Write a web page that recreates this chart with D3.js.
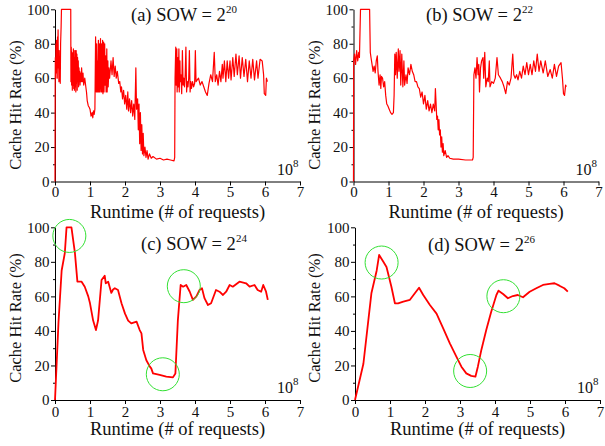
<!DOCTYPE html>
<html><head><meta charset="utf-8">
<script src="https://cdn.jsdelivr.net/npm/d3@7"></script>
<style>
body{margin:0;background:#fff;}
svg{display:block;}
</style></head>
<body><svg id="chart" width="605" height="446"></svg>
<script>
// ---- data ----
const xTicks = [0,1,2,3,4,5,6,7];
const yTicks = [0,20,40,60,80,100];
const yMinorTicks = [10,30,50,70,90];
const panelLabels = ["(a) SOW = 2","(b) SOW = 2","(c) SOW = 2","(d) SOW = 2"];
const panelExponents = ["20","22","24","26"];
const xTitle = "Runtime (# of requests)";
const yTitle = "Cache Hit Rate (%)";
const xScaleBase = "10", xScaleExp = "8";

const seriesA = [[0,0],[0.005,55],[0.01,72],[0.018,60],[0.025,80],[0.032,63],[0.04,82],[0.048,66],[0.056,75],[0.064,60],[0.072,84],[0.08,70],[0.088,88],[0.096,66],[0.104,72],[0.112,58],[0.12,76],[0.13,60],[0.14,62],[0.15,57],[0.16,80],[0.175,90],[0.185,100],[0.45,100],[0.455,58],[0.465,78],[0.475,56],[0.485,75],[0.495,53],[0.505,74],[0.515,56],[0.525,77],[0.535,54],[0.545,72],[0.555,53],[0.565,76],[0.575,55],[0.585,76],[0.595,52],[0.605,76],[0.615,57],[0.625,74],[0.635,53],[0.645,72],[0.655,58],[0.665,70],[0.675,55],[0.685,66],[0.695,60],[0.705,64],[0.715,56],[0.73,63],[0.745,58],[0.76,66],[0.78,58],[0.8,63],[0.82,56],[0.85,60],[0.88,55],[0.9,52],[0.92,47],[0.95,44],[0.98,43],[1.0,42],[1.03,38],[1.06,40],[1.08,37],[1.1,41],[1.12,39],[1.14,42],[1.16,84],[1.17,60],[1.18,52],[1.19,80],[1.2,52],[1.21,70],[1.22,52],[1.24,82],[1.25,52],[1.27,80],[1.28,52],[1.3,83],[1.31,56],[1.32,52],[1.33,80],[1.34,52],[1.36,82],[1.37,51],[1.39,81],[1.4,52],[1.42,80],[1.43,56],[1.45,73],[1.46,52],[1.48,77],[1.49,52],[1.51,70],[1.52,55],[1.54,66],[1.56,60],[1.6,70],[1.63,62],[1.66,72],[1.69,61],[1.72,67],[1.75,60],[1.78,64],[1.82,57],[1.85,58],[1.88,52],[1.9,55],[1.93,48],[1.96,53],[1.99,45],[2.02,50],[2.05,42],[2.08,52],[2.1,41],[2.13,48],[2.16,40],[2.19,47],[2.22,38],[2.25,45],[2.28,36],[2.31,66],[2.33,42],[2.36,48],[2.38,30],[2.4,45],[2.42,22],[2.44,40],[2.46,18],[2.48,33],[2.5,16],[2.52,28],[2.54,15],[2.57,20],[2.6,14],[2.63,18],[2.66,13],[2.7,16],[2.75,13.5],[2.8,14.5],[2.9,13],[3.0,13.5],[3.1,12.5],[3.2,13],[3.3,12.5],[3.4,12],[3.42,14],[3.43,60],[3.45,78],[3.46,56],[3.48,77],[3.49,52],[3.51,72],[3.52,55],[3.54,77],[3.55,52],[3.57,70],[3.58,58],[3.6,62],[3.62,51],[3.64,76],[3.66,56],[3.68,60],[3.7,55],[3.72,62],[3.74,78],[3.76,52],[3.78,58],[3.8,55],[3.82,60],[3.84,76],[3.86,52],[3.88,58],[3.9,54],[3.93,58],[3.96,55],[3.99,57],[4.01,76],[4.03,58],[4.1,60],[4.15,56],[4.2,58],[4.25,55],[4.3,52],[4.35,50],[4.4,57],[4.45,62],[4.5,58],[4.55,75],[4.58,58],[4.62,62],[4.66,56],[4.7,64],[4.74,58],[4.78,68],[4.8,60],[4.84,70],[4.88,58],[4.92,70],[4.96,60],[5.0,70],[5.03,59],[5.08,72],[5.12,61],[5.17,74],[5.21,62],[5.26,73],[5.3,60],[5.35,72],[5.4,61],[5.45,71],[5.5,58],[5.55,70],[5.6,60],[5.65,71],[5.7,59],[5.76,70],[5.8,60],[5.86,71],[5.92,70],[5.96,62],[5.98,51],[6.02,50],[6.04,60],[6.07,58]];

const seriesB = [[0,0],[0.005,70],[0.03,74],[0.06,68],[0.09,76],[0.12,70],[0.15,75],[0.17,72],[0.2,100],[0.46,100],[0.48,75],[0.5,72],[0.53,68],[0.56,64],[0.59,67],[0.62,63],[0.65,70],[0.68,73],[0.7,64],[0.73,56],[0.76,62],[0.78,54],[0.8,61],[0.83,60],[0.86,55],[0.89,58],[0.92,50],[0.95,45],[0.98,44],[1.02,42],[1.06,40],[1.1,39],[1.14,40],[1.16,50],[1.18,74],[1.2,62],[1.22,75],[1.25,60],[1.28,77],[1.3,64],[1.33,76],[1.35,56],[1.38,74],[1.41,55],[1.44,70],[1.46,56],[1.5,62],[1.53,57],[1.56,66],[1.6,62],[1.64,68],[1.68,64],[1.72,62],[1.76,58],[1.8,58],[1.84,55],[1.88,54],[1.92,49],[1.96,52],[2.0,45],[2.04,50],[2.08,42],[2.12,47],[2.16,41],[2.2,45],[2.24,40],[2.28,45],[2.32,41],[2.34,54],[2.36,45],[2.38,36],[2.4,38],[2.42,30],[2.44,36],[2.46,27],[2.48,30],[2.5,20],[2.52,26],[2.54,17],[2.56,22],[2.58,15],[2.62,18],[2.66,14],[2.7,15],[2.75,13.5],[2.85,13],[3.0,13],[3.2,12.5],[3.4,12.5],[3.42,14],[3.44,62],[3.47,66],[3.5,60],[3.53,72],[3.56,62],[3.58,68],[3.6,52],[3.63,66],[3.66,70],[3.7,72],[3.72,60],[3.75,75],[3.78,55],[3.82,60],[3.85,58],[3.88,70],[3.9,55],[3.95,58],[4.0,57],[4.05,60],[4.1,72],[4.14,62],[4.2,60],[4.25,58],[4.3,55],[4.35,51],[4.4,58],[4.45,56],[4.5,60],[4.55,74],[4.58,62],[4.62,60],[4.66,62],[4.7,59],[4.75,64],[4.8,60],[4.85,67],[4.9,62],[4.95,69],[5.0,62],[5.05,68],[5.1,62],[5.15,70],[5.2,64],[5.25,74],[5.3,64],[5.35,70],[5.42,63],[5.48,70],[5.55,61],[5.62,65],[5.68,60],[5.74,68],[5.8,61],[5.86,67],[5.93,69],[5.97,60],[6.0,51],[6.03,50],[6.06,56],[6.08,55]];

const seriesC = [[0,0],[0.1,45],[0.19,75],[0.28,85],[0.33,100],[0.47,100],[0.57,85],[0.64,68.5],[0.76,68.5],[0.85,65.6],[0.95,60],[1.0,56],[1.09,46],[1.17,40.5],[1.23,46],[1.33,69.5],[1.42,72],[1.45,67.6],[1.52,68.5],[1.61,62],[1.66,64],[1.71,64.7],[1.8,63.7],[1.9,56],[2.0,50],[2.09,46],[2.18,44.4],[2.33,45.4],[2.42,40.5],[2.47,38.6],[2.52,29],[2.61,23],[2.71,19.3],[2.75,18.3],[2.8,15.4],[2.99,14.5],[3.18,13.5],[3.37,13.1],[3.44,15.4],[3.51,46],[3.59,66.6],[3.66,65.6],[3.75,66.6],[3.85,62.7],[3.94,58],[4.04,60],[4.13,63.7],[4.2,64.7],[4.27,59],[4.37,55],[4.46,56],[4.6,63.7],[4.7,62.7],[4.8,60.8],[4.89,62.7],[4.99,66.6],[5.08,65.6],[5.27,68.5],[5.46,67.6],[5.56,65.6],[5.7,66.6],[5.79,63.7],[5.89,62.7],[5.95,66.6],[6.03,62.7],[6.08,58]];

const seriesD = [[0,0],[0.24,21],[0.47,62],[0.62,75],[0.69,84],[0.81,80],[0.9,77],[1.04,65.6],[1.14,56],[1.23,56],[1.38,57],[1.57,58],[1.71,61.8],[1.83,65],[1.95,60.8],[2.14,55],[2.33,50],[2.52,41.5],[2.71,32.8],[2.9,25],[3.04,19.3],[3.18,15.4],[3.32,14],[3.44,13.5],[3.51,19.3],[3.61,29],[3.75,40.5],[3.89,51],[4.04,60.8],[4.1,63.3],[4.23,61.4],[4.37,58.9],[4.51,60.2],[4.65,60.8],[4.8,59.5],[4.99,62.7],[5.18,64.7],[5.37,66.6],[5.56,67.2],[5.7,67.6],[5.84,66.2],[5.98,64.7],[6.08,62.7]];

const circlesC = [[0.41,95],[3.68,65.9],[3.08,14.9]];
const circlesD = [[0.76,79.6],[4.24,60.1],[3.29,16.8]];

// ---- layout ----
const FONT = '"Liberation Serif"';
const panels = [
  {data:seriesA, circles:[], x0:55, x1:300, y0:181.5, y1:9.3, lw:1.2, titleX:131, titleY:21, padX:1, yTitleX:21, yTitleY:105},
  {data:seriesB, circles:[], x0:353.5, x1:598.5, y0:181.5, y1:9.3, lw:1.2, titleX:426, titleY:21, padX:1, yTitleX:320, yTitleY:105},
  {data:seriesC, circles:circlesC, x0:55, x1:300, y0:400, y1:227.3, lw:1.8, titleX:141, titleY:250, padX:2.5, yTitleX:21, yTitleY:318},
  {data:seriesD, circles:circlesD, x0:355, x1:600, y0:400, y1:227.3, lw:1.8, titleX:428, titleY:251, padX:2.5, yTitleX:320, yTitleY:318}
];

const svg = d3.select("#chart");

panels.forEach((p,i)=>{
  const x = d3.scaleLinear().domain([0,7]).range([p.x0,p.x1]);
  const y = d3.scaleLinear().domain([0,100]).range([p.y0,p.y1]);
  const g = svg.append("g");

  const xa = g.append("g").attr("transform",`translate(0,${p.y0})`)
    .call(d3.axisBottom(x).tickValues(xTicks).tickFormat(d3.format("d")).tickSize(4).tickSizeOuter(0).tickPadding(p.padX));
  const ya = g.append("g").attr("transform",`translate(${p.x0},0)`)
    .call(d3.axisLeft(y).tickValues(yTicks).tickSize(4).tickSizeOuter(0).tickPadding(1.5));
  g.append("g").attr("transform",`translate(${p.x0},0)`)
    .call(d3.axisLeft(y).tickValues(yMinorTicks).tickSize(2).tickSizeOuter(0).tickFormat(""))
    .select(".domain").remove();
  [xa,ya].forEach(a=>{
    a.selectAll("text").style("font-family",FONT).style("font-size","15px").attr("fill","#111");
    a.selectAll("line,path").attr("stroke","#000");
  });

  const line = d3.line().x(d=>x(d[0])).y(d=>y(d[1]));
  g.append("path").datum(p.data).attr("d",line)
    .attr("fill","none").attr("stroke","#ff0000").attr("stroke-width",p.lw).attr("stroke-linejoin","round");

  g.selectAll("circle.ann").data(p.circles).enter().append("circle")
    .attr("cx",d=>x(d[0])).attr("cy",d=>y(d[1])).attr("r",16.5)
    .attr("fill","none").attr("stroke","#33e033").attr("stroke-width",1);

  // panel title
  const t = g.append("text").attr("x",p.titleX).attr("y",p.titleY).style("font-family",FONT).style("font-size","18.5px").attr("fill","#111");
  t.append("tspan").text(panelLabels[i]);
  t.append("tspan").text(panelExponents[i]).style("font-size","11px").attr("dy",-8);

  // 10^8
  const s = g.append("text").attr("x",p.x1-23).attr("y",p.y0-7).style("font-family",FONT).style("font-size","16px").attr("fill","#111");
  s.append("tspan").text(xScaleBase);
  s.append("tspan").text(xScaleExp).style("font-size","11px").attr("dy",-8);

  // axis titles
  g.append("text").attr("x",(p.x0+p.x1)/2).attr("y",p.y0+ (i<2?36.5:35)).attr("text-anchor","middle")
    .style("font-family",FONT).style("font-size","18.5px").attr("fill","#111").text(xTitle);
  g.append("text").attr("transform",`translate(${p.yTitleX},${p.yTitleY}) rotate(-90)`).attr("text-anchor","middle")
    .style("font-family",FONT).style("font-size","16.5px").attr("fill","#111").text(yTitle);
});
</script></body></html>
